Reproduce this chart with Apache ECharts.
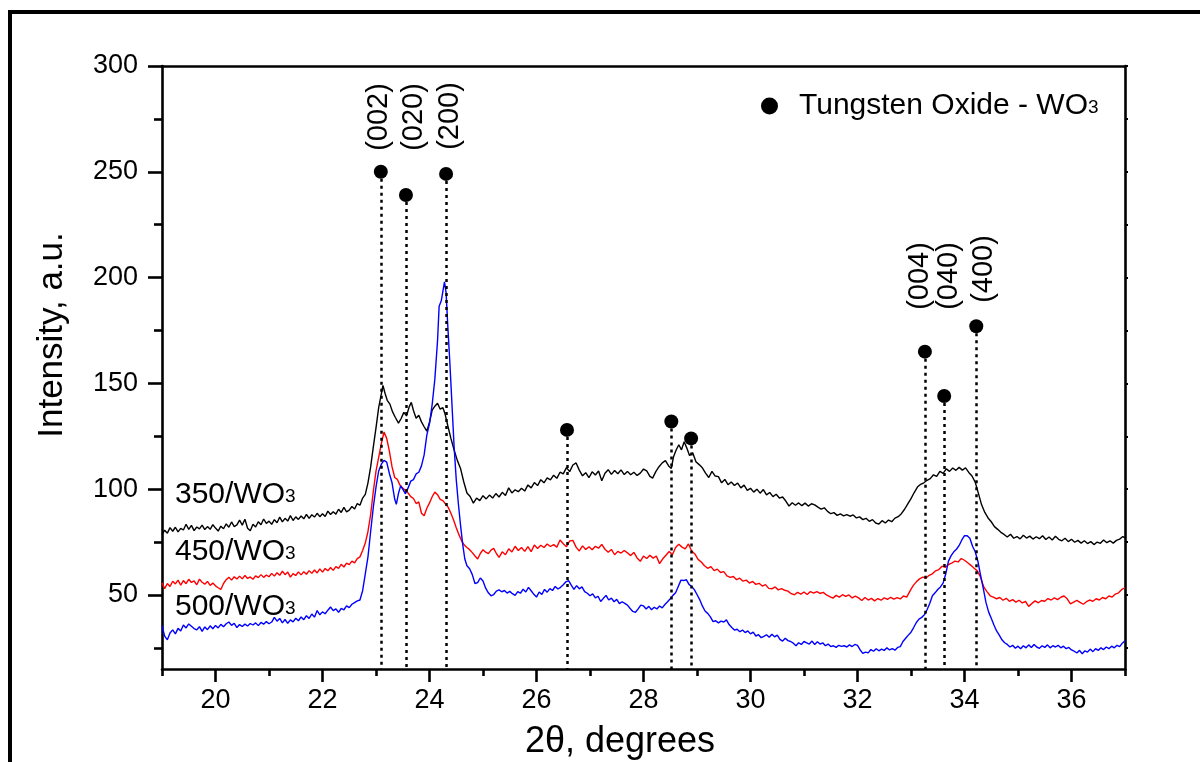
<!DOCTYPE html>
<html>
<head>
<meta charset="utf-8">
<title>XRD patterns of WO3 films</title>
<script src="https://cdn.jsdelivr.net/npm/echarts@6/dist/echarts.min.js"></script>
<style>
  html, body { margin: 0; padding: 0; background: #fff; }
  #chart { width: 1200px; height: 762px; }
</style>
</head>
<body>
<div id="chart"></div>
<script>
// 2-theta (degrees) / intensity (a.u.) pairs for each annealing temperature
const scan350 = [
  [19.00,78.5],[19.05,80.6],[19.10,79.2],[19.15,81.8],[19.20,80.1],[19.25,82.0],[19.30,79.8],[19.35,81.5],[19.40,80.7],[19.45,83.4],
  [19.50,81.0],[19.55,82.9],[19.60,80.4],[19.65,82.1],[19.70,81.2],[19.75,83.0],[19.80,80.9],[19.85,82.3],[19.90,81.0],[19.95,83.2],
  [20.00,81.6],[20.05,80.2],[20.10,82.5],[20.15,81.3],[20.20,83.6],[20.25,82.0],[20.30,84.5],[20.35,82.3],[20.40,83.1],[20.45,85.4],
  [20.50,83.0],[20.55,85.8],[20.60,81.5],[20.65,80.3],[20.70,83.4],[20.75,82.1],[20.80,84.6],[20.85,83.2],[20.90,85.9],[20.95,83.8],
  [21.00,84.9],[21.05,83.4],[21.10,85.6],[21.15,84.1],[21.20,86.8],[21.25,84.5],[21.30,86.2],[21.35,84.9],[21.40,87.5],[21.45,85.2],
  [21.50,86.9],[21.55,85.7],[21.60,87.3],[21.65,86.0],[21.70,88.1],[21.75,86.2],[21.80,87.9],[21.85,86.8],[21.90,88.6],[21.95,87.0],
  [22.00,88.4],[22.05,87.1],[22.10,89.6],[22.15,88.0],[22.20,89.3],[22.25,88.2],[22.30,90.5],[22.35,89.0],[22.40,91.4],[22.45,89.3],
  [22.50,90.1],[22.55,91.8],[22.60,90.6],[22.65,93.2],[22.70,92.4],[22.75,95.8],[22.80,97.5],[22.85,103.0],[22.90,110.5],[22.95,120.0],
  [23.00,129.0],[23.05,138.5],[23.10,145.0],[23.13,149.0],[23.17,145.2],[23.21,142.0],[23.26,140.2],[23.31,136.5],[23.36,134.0],[23.42,131.2],
  [23.47,133.4],[23.52,136.3],[23.57,134.6],[23.62,138.9],[23.66,141.0],[23.70,137.2],[23.75,133.5],[23.80,134.9],[23.85,131.8],[23.90,129.5],
  [23.95,127.4],[24.00,131.6],[24.05,137.4],[24.10,139.2],[24.15,140.6],[24.20,137.8],[24.25,138.5],[24.29,135.6],[24.34,130.2],[24.40,124.0],
  [24.46,118.5],[24.52,113.6],[24.58,109.8],[24.64,103.5],[24.70,98.2],[24.76,96.5],[24.82,93.4],[24.88,95.8],[24.94,94.6],[25.00,96.9],
  [25.06,95.4],[25.12,97.2],[25.18,95.8],[25.24,97.9],[25.30,96.3],[25.36,98.5],[25.42,97.0],[25.48,100.6],[25.54,98.2],[25.60,99.7],
  [25.66,98.8],[25.72,100.4],[25.78,99.1],[25.84,102.0],[25.90,100.6],[25.96,103.1],[26.02,101.7],[26.08,104.5],[26.14,103.0],[26.20,105.3],
  [26.26,104.4],[26.32,106.6],[26.38,105.1],[26.44,108.0],[26.50,107.2],[26.56,110.2],[26.62,108.3],[26.68,111.4],[26.74,112.4],[26.80,109.0],
  [26.86,106.3],[26.92,107.8],[26.98,105.4],[27.04,108.2],[27.10,106.7],[27.16,108.6],[27.22,104.0],[27.28,107.5],[27.34,109.2],[27.40,107.0],
  [27.46,108.8],[27.52,107.3],[27.58,109.1],[27.64,106.9],[27.70,108.4],[27.76,106.8],[27.82,108.0],[27.88,106.5],[27.94,107.6],[28.00,109.5],
  [28.06,108.6],[28.12,106.0],[28.17,105.2],[28.23,108.3],[28.29,110.6],[28.35,112.4],[28.41,113.5],[28.47,111.0],[28.52,109.8],[28.56,115.2],
  [28.61,118.5],[28.66,121.0],[28.71,118.6],[28.76,122.4],[28.81,119.4],[28.86,115.9],[28.92,117.2],[28.98,113.0],[29.04,111.6],[29.10,110.1],
  [29.16,107.6],[29.22,105.5],[29.28,108.4],[29.34,106.2],[29.40,105.9],[29.46,103.0],[29.52,104.6],[29.58,102.1],[29.64,103.4],[29.70,101.7],
  [29.76,102.9],[29.82,100.6],[29.88,101.9],[29.94,99.4],[30.00,100.4],[30.06,98.6],[30.12,100.0],[30.18,98.1],[30.24,99.8],[30.30,97.3],
  [30.36,98.4],[30.42,96.5],[30.48,97.6],[30.54,95.8],[30.60,96.3],[30.66,94.4],[30.72,92.0],[30.78,93.6],[30.84,92.4],[30.90,93.5],
  [30.96,92.2],[31.02,93.4],[31.08,92.0],[31.14,93.1],[31.20,92.6],[31.26,91.5],[31.32,90.6],[31.38,91.2],[31.44,89.5],[31.50,88.4],
  [31.56,88.9],[31.62,87.6],[31.68,88.3],[31.74,87.4],[31.80,88.0],[31.86,87.2],[31.92,87.8],[31.98,86.4],[32.04,86.9],[32.10,85.6],
  [32.16,86.2],[32.22,84.8],[32.28,85.6],[32.34,84.0],[32.40,83.5],[32.46,85.1],[32.52,84.0],[32.58,85.4],[32.64,84.6],[32.70,86.3],
  [32.76,87.0],[32.82,88.4],[32.88,90.5],[32.94,93.0],[33.00,95.5],[33.06,98.4],[33.12,101.0],[33.18,102.3],[33.24,103.0],[33.30,104.2],
  [33.36,105.0],[33.42,106.8],[33.48,106.0],[33.54,108.4],[33.60,107.5],[33.66,109.6],[33.72,108.4],[33.78,110.0],[33.84,108.9],[33.90,110.3],
  [33.96,109.0],[34.02,110.1],[34.08,107.9],[34.14,106.2],[34.20,103.3],[34.26,98.0],[34.32,92.6],[34.38,89.0],[34.44,86.4],[34.50,84.6],
  [34.56,82.3],[34.62,81.0],[34.68,79.6],[34.74,78.6],[34.80,77.4],[34.86,78.7],[34.92,76.8],[34.98,77.6],[35.04,76.5],[35.10,78.2],
  [35.16,76.9],[35.22,77.8],[35.28,76.4],[35.34,77.5],[35.40,76.6],[35.46,78.0],[35.52,76.2],[35.58,77.4],[35.64,76.0],[35.70,77.7],
  [35.76,76.3],[35.82,75.6],[35.88,76.8],[35.94,75.2],[36.00,76.3],[36.06,74.9],[36.12,75.8],[36.18,74.5],[36.24,75.6],[36.30,74.3],
  [36.36,75.2],[36.42,73.8],[36.48,75.0],[36.54,74.4],[36.60,76.0],[36.66,74.7],[36.72,75.6],[36.78,74.5],[36.84,75.8],[36.90,76.4],
  [36.96,77.6],[37.00,77.0]
];

const scan450 = [
  [19.00,55.8],[19.05,53.0],[19.10,55.4],[19.15,54.0],[19.20,56.5],[19.25,55.2],[19.30,57.0],[19.35,54.6],[19.40,56.8],[19.45,55.3],
  [19.50,57.4],[19.55,55.9],[19.60,56.6],[19.65,54.8],[19.70,57.5],[19.75,56.0],[19.80,55.1],[19.85,56.4],[19.90,54.5],[19.95,55.6],
  [20.00,54.3],[20.05,53.4],[20.10,52.6],[20.15,55.4],[20.20,57.2],[20.25,58.4],[20.30,57.0],[20.35,58.6],[20.40,57.5],[20.45,58.9],
  [20.50,57.6],[20.55,59.2],[20.60,57.8],[20.65,58.5],[20.70,57.4],[20.75,59.0],[20.80,58.2],[20.85,59.6],[20.90,58.3],[20.95,59.4],
  [21.00,58.6],[21.05,60.2],[21.10,58.9],[21.15,60.5],[21.20,59.3],[21.25,61.2],[21.30,59.6],[21.35,60.8],[21.40,58.4],[21.45,60.1],
  [21.50,59.2],[21.55,60.9],[21.60,59.5],[21.65,61.0],[21.70,59.8],[21.75,61.5],[21.80,60.2],[21.85,61.8],[21.90,60.4],[21.95,62.3],
  [22.00,60.8],[22.05,62.5],[22.10,61.4],[22.15,63.0],[22.20,61.6],[22.25,63.4],[22.30,62.6],[22.35,64.5],[22.40,63.2],[22.45,65.0],
  [22.50,64.3],[22.55,66.0],[22.60,65.2],[22.65,67.2],[22.70,68.0],[22.75,71.0],[22.80,74.5],[22.85,80.0],[22.90,88.0],[22.95,99.0],
  [23.00,108.5],[23.05,115.0],[23.10,121.5],[23.15,127.0],[23.20,124.0],[23.25,118.0],[23.30,110.5],[23.35,105.5],[23.40,104.6],[23.45,101.8],
  [23.50,100.5],[23.55,99.4],[23.60,98.2],[23.65,96.5],[23.70,95.6],[23.75,93.2],[23.80,94.0],[23.85,88.6],[23.90,87.4],[23.95,91.0],
  [24.00,93.5],[24.05,96.4],[24.10,98.6],[24.15,97.4],[24.20,95.2],[24.25,94.6],[24.30,93.0],[24.35,91.4],[24.40,88.6],[24.45,85.4],
  [24.50,81.8],[24.55,78.5],[24.60,75.6],[24.65,73.6],[24.70,72.4],[24.75,71.4],[24.80,70.0],[24.85,68.4],[24.90,67.0],[24.95,69.6],
  [25.00,71.4],[25.05,70.2],[25.10,69.5],[25.15,71.2],[25.20,72.0],[25.25,69.6],[25.30,67.8],[25.36,70.4],[25.42,69.0],[25.48,71.8],
  [25.54,70.3],[25.60,73.0],[25.66,71.0],[25.72,72.4],[25.78,70.6],[25.84,72.8],[25.90,70.5],[25.96,73.6],[26.02,72.0],[26.08,73.5],
  [26.14,72.4],[26.20,74.1],[26.26,72.9],[26.32,73.8],[26.38,72.6],[26.44,76.0],[26.50,74.2],[26.56,72.8],[26.62,75.5],[26.68,75.8],
  [26.74,72.6],[26.80,70.8],[26.86,73.2],[26.92,71.5],[26.98,72.8],[27.04,71.4],[27.10,73.0],[27.16,72.1],[27.22,73.9],[27.28,71.6],
  [27.34,70.2],[27.40,71.5],[27.46,69.0],[27.52,70.6],[27.58,69.8],[27.64,71.0],[27.70,69.9],[27.76,68.6],[27.82,70.1],[27.88,67.5],
  [27.94,65.9],[28.00,68.4],[28.06,67.2],[28.12,68.8],[28.18,67.4],[28.24,68.4],[28.30,64.8],[28.36,67.1],[28.42,68.8],[28.48,70.5],
  [28.54,69.0],[28.60,72.4],[28.66,74.0],[28.72,72.6],[28.78,71.8],[28.84,74.1],[28.90,70.8],[28.96,69.4],[29.02,66.8],[29.08,65.6],
  [29.14,63.8],[29.20,62.6],[29.26,63.4],[29.32,61.5],[29.38,62.2],[29.44,60.6],[29.50,61.0],[29.56,59.0],[29.62,58.3],[29.68,58.7],
  [29.74,57.2],[29.80,57.9],[29.86,56.5],[29.92,57.0],[29.98,55.6],[30.04,56.4],[30.10,55.0],[30.16,55.5],[30.22,54.2],[30.28,54.9],
  [30.34,53.1],[30.40,52.9],[30.46,53.8],[30.52,52.4],[30.58,53.0],[30.64,52.2],[30.70,51.8],[30.76,50.6],[30.82,50.1],[30.88,51.2],
  [30.94,50.4],[31.00,51.4],[31.06,50.2],[31.12,51.6],[31.18,50.9],[31.24,51.6],[31.30,50.7],[31.36,51.2],[31.42,50.0],[31.48,49.2],
  [31.54,48.5],[31.60,49.8],[31.66,49.0],[31.72,50.1],[31.78,49.3],[31.84,50.0],[31.90,48.6],[31.96,49.4],[32.02,48.6],[32.08,47.4],
  [32.14,48.8],[32.20,47.6],[32.26,48.4],[32.32,47.2],[32.38,48.3],[32.44,47.5],[32.50,48.6],[32.56,47.9],[32.62,48.9],[32.68,48.0],
  [32.74,48.7],[32.80,48.1],[32.86,49.5],[32.92,49.0],[32.98,51.8],[33.04,54.4],[33.10,56.2],[33.16,57.6],[33.22,58.4],[33.28,58.0],
  [33.34,59.3],[33.40,60.0],[33.46,61.4],[33.52,62.0],[33.58,63.6],[33.64,63.0],[33.70,64.4],[33.76,65.0],[33.82,66.0],[33.88,65.6],
  [33.94,67.2],[34.00,66.4],[34.06,65.2],[34.12,64.0],[34.18,62.6],[34.24,61.4],[34.30,58.4],[34.36,53.8],[34.42,51.6],[34.48,49.6],
  [34.54,49.0],[34.60,48.2],[34.66,48.8],[34.72,47.5],[34.78,48.4],[34.84,47.0],[34.90,47.8],[34.96,46.6],[35.02,47.5],[35.08,46.2],
  [35.14,46.9],[35.20,44.6],[35.26,46.0],[35.32,47.2],[35.38,46.3],[35.44,47.4],[35.50,47.0],[35.56,48.3],[35.62,47.6],[35.68,48.6],
  [35.74,47.8],[35.80,48.9],[35.86,49.5],[35.92,48.2],[35.98,45.8],[36.04,46.6],[36.10,47.4],[36.16,46.5],[36.22,45.6],[36.28,46.8],
  [36.34,47.6],[36.40,47.0],[36.46,48.2],[36.52,47.6],[36.58,48.8],[36.64,48.2],[36.70,49.5],[36.76,49.0],[36.82,50.4],[36.88,51.0],
  [36.94,52.6],[37.00,53.4]
];

const scan500 = [
  [19.00,35.5],[19.05,30.5],[19.10,28.8],[19.15,32.0],[19.20,33.5],[19.25,31.6],[19.30,34.2],[19.35,33.0],[19.40,35.8],[19.45,34.4],
  [19.50,36.3],[19.55,35.2],[19.60,34.1],[19.65,33.5],[19.70,35.0],[19.75,32.8],[19.80,34.9],[19.85,33.6],[19.90,35.4],[19.95,34.0],
  [20.00,35.6],[20.05,34.4],[20.10,36.1],[20.15,35.0],[20.20,36.4],[20.25,37.2],[20.30,35.6],[20.35,36.6],[20.40,34.6],[20.45,36.0],
  [20.50,35.1],[20.55,36.2],[20.60,35.3],[20.65,36.5],[20.70,35.8],[20.75,36.8],[20.80,35.5],[20.85,37.0],[20.90,36.2],[20.95,37.4],
  [21.00,36.4],[21.05,37.2],[21.10,39.4],[21.15,37.6],[21.20,38.9],[21.25,36.8],[21.30,38.4],[21.35,36.6],[21.40,38.2],[21.45,37.3],
  [21.50,39.0],[21.55,37.8],[21.60,39.6],[21.65,38.3],[21.70,40.2],[21.75,38.9],[21.80,41.0],[21.85,39.5],[21.90,42.6],[21.95,40.6],
  [22.00,42.0],[22.05,41.1],[22.10,42.8],[22.15,44.3],[22.20,42.6],[22.25,43.4],[22.30,41.8],[22.35,43.6],[22.40,43.0],[22.45,44.8],
  [22.50,44.0],[22.55,45.6],[22.60,46.4],[22.65,47.2],[22.70,47.6],[22.75,52.0],[22.80,60.0],[22.85,68.0],[22.90,80.0],[22.95,91.5],
  [23.00,101.0],[23.05,108.6],[23.10,111.8],[23.15,113.6],[23.20,112.8],[23.25,107.4],[23.30,103.0],[23.35,95.2],[23.38,92.8],[23.42,98.0],
  [23.46,101.5],[23.50,100.0],[23.55,97.8],[23.60,100.6],[23.65,103.8],[23.70,104.5],[23.75,107.2],[23.80,108.0],[23.85,111.0],[23.90,116.2],
  [23.95,125.5],[24.00,131.0],[24.05,140.0],[24.10,152.0],[24.15,170.0],[24.18,186.5],[24.22,189.0],[24.25,193.5],[24.28,198.0],[24.31,193.0],
  [24.34,178.0],[24.38,160.0],[24.42,140.0],[24.46,120.0],[24.50,104.5],[24.54,93.0],[24.58,83.0],[24.62,74.0],[24.66,67.0],[24.70,63.8],
  [24.75,62.4],[24.80,59.6],[24.85,55.4],[24.90,55.8],[24.95,58.0],[25.00,56.6],[25.05,53.2],[25.10,51.0],[25.15,49.6],[25.20,50.2],
  [25.25,51.8],[25.30,52.4],[25.35,51.5],[25.40,52.1],[25.45,50.9],[25.50,51.7],[25.55,50.6],[25.60,49.8],[25.65,51.6],[25.70,50.8],
  [25.75,52.7],[25.80,51.4],[25.85,53.6],[25.90,52.0],[25.95,50.3],[26.00,49.0],[26.05,51.4],[26.10,50.2],[26.15,52.6],[26.20,51.3],
  [26.25,53.0],[26.30,52.1],[26.35,54.0],[26.40,52.8],[26.45,53.6],[26.50,54.8],[26.55,56.2],[26.60,56.8],[26.65,54.6],[26.70,52.6],
  [26.75,54.4],[26.80,52.9],[26.85,53.8],[26.90,51.6],[26.95,50.8],[27.00,49.6],[27.05,50.5],[27.10,48.6],[27.15,49.4],[27.20,46.9],
  [27.25,48.4],[27.30,49.8],[27.35,47.6],[27.40,48.5],[27.45,46.8],[27.50,47.9],[27.55,45.9],[27.60,46.8],[27.65,46.0],[27.70,45.2],
  [27.75,43.6],[27.80,42.2],[27.85,41.8],[27.90,43.4],[27.95,45.2],[28.00,44.8],[28.05,43.4],[28.10,44.6],[28.15,43.0],[28.20,44.2],
  [28.25,43.4],[28.30,44.8],[28.35,43.9],[28.40,45.5],[28.45,46.8],[28.50,48.2],[28.55,49.8],[28.60,51.0],[28.65,54.0],[28.70,57.0],
  [28.75,56.8],[28.80,57.2],[28.85,55.0],[28.90,54.0],[28.95,52.5],[29.00,50.2],[29.05,47.8],[29.10,44.8],[29.15,42.4],[29.20,41.3],
  [29.25,39.6],[29.30,37.4],[29.35,37.8],[29.40,36.8],[29.45,37.6],[29.50,37.2],[29.55,38.2],[29.60,36.0],[29.65,34.6],[29.70,33.4],
  [29.75,33.8],[29.80,32.6],[29.85,33.4],[29.90,32.2],[29.95,33.0],[30.00,31.6],[30.05,32.4],[30.10,30.6],[30.15,31.2],[30.20,29.8],
  [30.25,30.4],[30.30,31.2],[30.35,30.0],[30.40,31.4],[30.45,30.2],[30.50,31.0],[30.55,29.0],[30.60,28.2],[30.65,29.5],[30.70,28.4],
  [30.75,28.0],[30.80,27.2],[30.85,26.0],[30.90,27.4],[30.95,26.6],[31.00,28.0],[31.05,27.4],[31.10,26.8],[31.15,28.2],[31.20,26.6],
  [31.25,27.9],[31.30,26.8],[31.35,27.4],[31.40,26.0],[31.45,26.8],[31.50,25.6],[31.55,26.0],[31.60,25.2],[31.65,26.2],[31.70,25.7],
  [31.75,26.0],[31.80,25.4],[31.85,26.4],[31.90,25.6],[31.95,26.6],[32.00,26.2],[32.05,24.0],[32.10,22.4],[32.15,23.0],[32.20,22.6],
  [32.25,24.2],[32.30,23.4],[32.35,24.6],[32.40,23.6],[32.45,24.4],[32.50,23.8],[32.55,25.0],[32.60,24.0],[32.65,24.6],[32.70,23.9],
  [32.75,25.2],[32.80,25.6],[32.85,28.0],[32.90,29.5],[32.95,31.0],[33.00,32.4],[33.05,34.6],[33.10,37.0],[33.15,38.6],[33.20,39.4],
  [33.25,40.6],[33.30,43.0],[33.35,46.0],[33.40,49.6],[33.45,51.0],[33.50,52.6],[33.55,53.8],[33.60,55.6],[33.65,60.0],[33.70,66.0],
  [33.75,68.6],[33.80,70.4],[33.85,71.6],[33.90,73.4],[33.95,76.0],[34.00,78.0],[34.05,78.0],[34.10,76.8],[34.15,73.0],[34.20,70.4],
  [34.25,66.0],[34.30,59.4],[34.35,53.2],[34.40,46.6],[34.45,42.0],[34.50,39.0],[34.55,35.8],[34.60,33.0],[34.65,31.0],[34.70,28.8],
  [34.75,27.4],[34.80,26.6],[34.85,25.4],[34.90,26.2],[34.95,24.8],[35.00,25.8],[35.05,24.6],[35.10,26.0],[35.15,25.0],[35.20,26.4],
  [35.25,25.2],[35.30,26.6],[35.35,25.4],[35.40,24.8],[35.45,26.0],[35.50,25.2],[35.55,26.4],[35.60,25.0],[35.65,26.0],[35.70,25.4],
  [35.75,26.2],[35.80,25.0],[35.85,25.8],[35.90,24.6],[35.95,25.2],[36.00,24.0],[36.05,23.4],[36.10,22.6],[36.15,23.8],[36.20,22.2],
  [36.25,23.6],[36.30,23.0],[36.35,24.4],[36.40,23.2],[36.45,24.6],[36.50,23.8],[36.55,25.0],[36.60,24.2],[36.65,25.4],[36.70,24.6],
  [36.75,25.8],[36.80,25.0],[36.85,26.2],[36.90,25.6],[36.95,27.2],[37.00,28.4]
];

// WO3 reference reflections: 2-theta position and marker height
const reflectionPos = [23.09, 23.56, 24.31, 26.57, 28.52, 28.89, 33.26, 33.62, 34.22];
const reflectionMark = [250, 239, 249, 128, 132, 124, 165, 144, 177];
const planeNames = ['(002)', '(020)', '(200)', '(004)', '(040)', '(400)'];

// Axis ticks
const xMajorTicks = [20, 22, 24, 26, 28, 30, 32, 34, 36];
const xMinorTicks = [19, 21, 23, 25, 27, 29, 31, 33, 35, 37];
const yMajorTicks = [50, 100, 150, 200, 250, 300];
const yMinorTicks = [25, 75, 125, 175, 225, 275];
const yRightTicks = [25, 50, 75, 100, 125, 150, 175, 200, 225, 250, 275, 300];

const sampleNames = ['350/WO', '450/WO', '500/WO'];
const phaseName = 'Tungsten Oxide - WO';

const FONT = '"Liberation Sans", Arial, sans-serif';
const X_MIN = 19, X_MAX = 37, Y_MIN = 15, Y_MAX = 300;

const chart = echarts.init(document.getElementById('chart'), null, { renderer: 'canvas' });

const baseX = {
  type: 'value', min: X_MIN, max: X_MAX, gridIndex: 0,
  splitLine: { show: false }
};
const baseY = {
  type: 'value', min: Y_MIN, max: Y_MAX, gridIndex: 0,
  splitLine: { show: false }
};
const axisLineStyle = { color: '#000', width: 2.6 };

// chemical formula with a small index sitting on the baseline
const subRich = {
  a: { fontFamily: FONT, fontSize: 30, color: '#000', lineHeight: 34 },
  s: { fontFamily: FONT, fontSize: 19, color: '#000', lineHeight: 19, verticalAlign: 'bottom', padding: [0, 0, 6, 0] }
};

// pixel layout of the hkl labels (rotated text above the markers)
const planeLayout = [
  { x: 379, y: 117 }, { x: 414, y: 117 }, { x: 450, y: 116 },
  { x: 920, y: 276 }, { x: 949, y: 276 }, { x: 984, y: 269 }
];
// pixel layout of the sample labels
const sampleLayout = [{ x: 175, y: 495 }, { x: 175, y: 552 }, { x: 175, y: 607 }];

const graphics = [
  {
    type: 'rect', silent: true, z: 100,
    shape: { x: 10, y: 12, width: 1260, height: 820 },
    style: { fill: 'none', stroke: '#000', lineWidth: 4 }
  },
  {
    type: 'text', silent: true,
    x: 52, y: 335, rotation: Math.PI / 2,
    style: {
      text: 'Intensity, a.u.', fontFamily: FONT, fontSize: 35, fill: '#000',
      align: 'center', verticalAlign: 'middle'
    }
  },
  {
    type: 'text', silent: true,
    x: 620, y: 742,
    style: {
      text: '2\u03b8, degrees', fontFamily: FONT, fontSize: 36, fill: '#000',
      align: 'center', verticalAlign: 'middle'
    }
  }
];
planeNames.forEach(function (name, i) {
  graphics.push({
    type: 'text', silent: true,
    x: planeLayout[i].x, y: planeLayout[i].y, rotation: Math.PI / 2,
    style: {
      text: name, fontFamily: FONT, fontSize: 29, fill: '#000',
      align: 'center', verticalAlign: 'middle'
    }
  });
});
sampleNames.forEach(function (name, i) {
  graphics.push({
    type: 'text', silent: true,
    x: sampleLayout[i].x, y: sampleLayout[i].y,
    style: {
      text: '{a|' + name + '}{s|3}', rich: subRich,
      align: 'left', verticalAlign: 'middle'
    }
  });
});

const option = {
  backgroundColor: '#fff',
  animation: false,
  grid: { left: 162, top: 66, right: 75, bottom: 93, containLabel: false },
  legend: {
    data: [phaseName],
    left: 756, top: 86,
    icon: 'circle', itemWidth: 17, itemHeight: 17,
    selectedMode: false,
    itemStyle: { color: '#000', opacity: 1 },
    formatter: function (n) { return '{t|' + n + '}{s|3}'; },
    textStyle: {
      rich: {
        t: { fontFamily: FONT, fontSize: 30, color: '#000', lineHeight: 34, padding: [0, 0, 0, 16] },
        s: { fontFamily: FONT, fontSize: 19, color: '#000', lineHeight: 19, verticalAlign: 'bottom', padding: [0, 0, 6, 0] }
      }
    }
  },
  xAxis: [
    Object.assign({}, baseX, {
      position: 'bottom',
      axisLine: { show: true, lineStyle: axisLineStyle },
      axisTick: { show: true, inside: false, length: 13, lineStyle: { color: '#000', width: 2.6 }, customValues: xMajorTicks },
      axisLabel: { show: true, margin: 18, fontFamily: FONT, fontSize: 27, color: '#000', customValues: xMajorTicks }
    }),
    Object.assign({}, baseX, {
      position: 'bottom',
      axisLine: { show: false },
      axisTick: { show: true, inside: false, length: 7, lineStyle: { color: '#000', width: 2.6 }, customValues: xMinorTicks },
      axisLabel: { show: false }
    }),
    Object.assign({}, baseX, {
      position: 'top',
      axisLine: { show: true, lineStyle: axisLineStyle },
      axisTick: { show: false },
      axisLabel: { show: false }
    })
  ],
  yAxis: [
    Object.assign({}, baseY, {
      position: 'left',
      axisLine: { show: true, lineStyle: axisLineStyle },
      axisTick: { show: true, inside: false, length: 14, lineStyle: { color: '#000', width: 2.6 }, customValues: yMajorTicks },
      axisLabel: { show: true, margin: 24, fontFamily: FONT, fontSize: 27, color: '#000', customValues: yMajorTicks }
    }),
    Object.assign({}, baseY, {
      position: 'left',
      axisLine: { show: false },
      axisTick: { show: true, inside: false, length: 8, lineStyle: { color: '#000', width: 2.6 }, customValues: yMinorTicks },
      axisLabel: { show: false }
    }),
    Object.assign({}, baseY, {
      position: 'right',
      axisLine: { show: true, lineStyle: axisLineStyle },
      axisTick: { show: true, inside: false, length: 3, lineStyle: { color: '#000', width: 2 }, customValues: yRightTicks },
      axisLabel: { show: false }
    })
  ],
  graphic: graphics,
  series: [
    {
      name: '350/WO3', type: 'line', data: scan350, showSymbol: false,
      lineStyle: { color: '#000', width: 1.4 }, z: 3
    },
    {
      name: '450/WO3', type: 'line', data: scan450, showSymbol: false,
      lineStyle: { color: '#ff0000', width: 1.4 }, z: 3
    },
    {
      name: '500/WO3', type: 'line', data: scan500, showSymbol: false,
      lineStyle: { color: '#0000ff', width: 1.4 }, z: 3
    },
    {
      name: phaseName, type: 'scatter',
      data: reflectionPos.map(function (x, i) { return [x, reflectionMark[i]]; }),
      symbol: 'circle', symbolSize: 14,
      itemStyle: { color: '#000', opacity: 1 }, z: 5,
      markLine: {
        silent: true, symbol: ['none', 'none'],
        label: { show: false },
        lineStyle: { color: '#000', width: 2.5, type: [3, 4], opacity: 1 },
        data: reflectionPos.map(function (x, i) {
          return [{ coord: [x, reflectionMark[i]] }, { coord: [x, Y_MIN] }];
        })
      }
    }
  ]
};

chart.setOption(option);
</script>
</body>
</html>
